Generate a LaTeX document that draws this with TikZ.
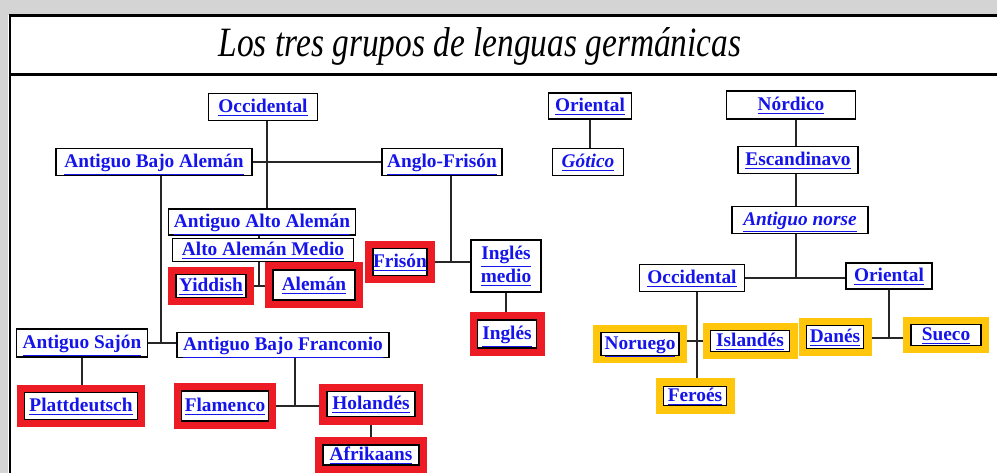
\documentclass[tikz,border=0pt]{standalone}
\usepackage{fontspec}
\setmainfont{Liberation Serif}
\usepackage{xcolor}
\usepackage{tikz}
\definecolor{linkblue}{RGB}{20, 20, 235}
\definecolor{hlred}{RGB}{237, 28, 36}
\definecolor{hlyellow}{RGB}{255, 198, 12}
\definecolor{framegray}{RGB}{212, 212, 212}
\newcommand{\lnk}[1]{\underline{#1}}

\begin{document}
\begin{tikzpicture}[
        x=0.02cm, y=-0.02cm,
        langbase/.style={rectangle, draw=black, line width=0.8pt, fill=white, text=linkblue, inner sep=0pt, align=center, font=\bfseries\fontsize{11}{12}\selectfont},
        lang/.style={langbase, text height=8.5pt, text depth=2.5pt},
        redlang/.style={lang, preaction={draw=hlred, line width=0.32cm}, outer sep=0.16cm},
        yellang/.style={lang, preaction={draw=hlyellow, line width=0.32cm}, outer sep=0.16cm},
        link/.style={line width=0.85pt, draw=black!85}
    ]
        \useasboundingbox (0,0) rectangle (997,473);

        % window frame
        \fill[framegray] (0,0) rectangle (997,15);
        \fill[framegray] (0,0) rectangle (8,473);
        \draw[line width=0.06cm] (10,473) -- (10,16) -- (997,16);
        \draw[line width=0.06cm] (10,75) -- (997,75);
        \node (title) at (480,46) {\scalebox{1}[1.25]{\itshape\fontsize{19}{22}\selectfont Los tres grupos de lenguas germánicas}};

        % occidental
        \node[lang, minimum width=2.18cm, minimum height=0.54cm] (occ) at (263,107) {\lnk{Occidental}};
        \node[lang, minimum width=3.92cm, minimum height=0.54cm] (aba) at (154,162) {\lnk{Antiguo Bajo Alemán}};
        \node[lang, minimum width=2.40cm, minimum height=0.54cm] (af) at (442,162) {\lnk{Anglo-Frisón}};
        \node[lang, minimum width=3.74cm, minimum height=0.52cm] (aaa) at (262,222) {\lnk{Antiguo Alto Alemán}};
        \node[lang, minimum width=3.62cm, minimum height=0.46cm] (aam) at (263,250) {\lnk{Alto Alemán Medio}};
        \node[redlang, minimum width=1.40cm, minimum height=0.46cm] (yid) at (211,286) {\lnk{Yiddish}};
        \node[redlang, minimum width=1.64cm, minimum height=0.60cm] (ale) at (314,285) {\lnk{Alemán}};
        \node[redlang, minimum width=1.06cm, minimum height=0.54cm] (fris) at (400,262) {\lnk{Frisón}};
        \node[langbase, minimum width=1.40cm, minimum height=1.04cm] (im) at (506,266) {\lnk{Inglés}\\\lnk{medio}};
        \node[redlang, minimum width=1.18cm, minimum height=0.56cm] (ing) at (507,334) {\lnk{Inglés}};
        \node[lang, minimum width=2.62cm, minimum height=0.56cm] (asa) at (82,343) {\lnk{Antiguo Sajón}};
        \node[lang, minimum width=4.24cm, minimum height=0.50cm] (abf) at (283,345) {\lnk{Antiguo Bajo Franconio}};
        \node[redlang, minimum width=2.26cm, minimum height=0.54cm] (pla) at (81,406) {\lnk{Plattdeutsch}};
        \node[redlang, minimum width=1.74cm, minimum height=0.60cm] (fla) at (225,406) {\lnk{Flamenco}};
        \node[redlang, minimum width=1.76cm, minimum height=0.50cm] (hol) at (371,404) {\lnk{Holandés}};
        \node[redlang, minimum width=1.92cm, minimum height=0.40cm] (afr) at (371,455) {\lnk{Afrikaans}};

        % oriental
        \node[lang, minimum width=1.66cm, minimum height=0.52cm] (ori) at (590,106) {\lnk{Oriental}};
        \node[lang, minimum width=1.42cm, minimum height=0.54cm, font=\bfseries\itshape\fontsize{11}{12}\selectfont] (got) at (588,162) {\lnk{Gótico}};

        % nordico
        \node[lang, minimum width=2.58cm, minimum height=0.56cm] (nor) at (791,105) {\lnk{Nórdico}};
        \node[lang, minimum width=2.40cm, minimum height=0.54cm] (esc) at (798,160) {\lnk{Escandinavo}};
        \node[lang, minimum width=2.72cm, minimum height=0.54cm, font=\bfseries\itshape\fontsize{11}{12}\selectfont] (an) at (800,220) {\lnk{Antiguo norse}};
        \node[lang, minimum width=2.10cm, minimum height=0.54cm] (occr) at (692,278) {\lnk{Occidental}};
        \node[lang, minimum width=1.72cm, minimum height=0.52cm] (orir) at (889,276) {\lnk{Oriental}};
        \node[yellang, minimum width=1.56cm, minimum height=0.46cm] (norg) at (640,344) {\lnk{Noruego}};
        \node[yellang, minimum width=1.58cm, minimum height=0.42cm] (isl) at (750,341) {\lnk{Islandés}};
        \node[yellang, minimum width=1.26cm, minimum height=0.38cm] (fer) at (695,396) {\lnk{Feroés}};
        \node[yellang, minimum width=1.14cm, minimum height=0.46cm] (dan) at (835,337) {\lnk{Danés}};
        \node[yellang, minimum width=1.40cm, minimum height=0.42cm] (sue) at (946,335) {\lnk{Sueco}};

        % junctions
        \coordinate (oj) at (267,163);
        \coordinate (sj) at (161,343);
        \coordinate (fj) at (451,262);
        \coordinate (yj) at (259,286);
        \coordinate (hj) at (295,406);
        \coordinate (nj) at (796,277);
        \coordinate (wj) at (697,341);
        \coordinate (ej) at (889,338);

        \draw[link] (occ.south -| oj) -- (aaa.north -| oj);
        \draw[link] (aba.east) -- (af.west);
        \draw[link] (aba.south -| sj) -- (sj);
        \draw[link] (asa.east) -- (abf.west |- asa.east);
        \draw[link] (af.south -| fj) -- (fj);
        \draw[link] (fris.east) -- (im.west |- fris.east);
        \draw[link] (im) -- (im |- ing.north);
        \draw[link] (aaa.south -| yj) -- (aam.north -| yj);
        \draw[link] (aam.south -| yj) -- (yj);
        \draw[link] (yid.east) -- (ale.west |- yid.east);
        \draw[link] (asa) -- (asa |- pla.north);
        \draw[link] (abf.south -| hj) -- (hj);
        \draw[link] (fla.east) -- (hol.west |- fla.east);
        \draw[link] (hol) -- (hol |- afr.north);
        \draw[link] (ori) -- (ori |- got.north);
        \draw[link] (nor.south -| nj) -- (esc.north -| nj);
        \draw[link] (esc.south -| nj) -- (an.north -| nj);
        \draw[link] (an.south -| nj) -- (nj);
        \draw[link] (occr.east) -- (orir.west |- occr.east);
        \draw[link] (occr.south -| wj) -- (fer.north -| wj);
        \draw[link] (norg.east |- wj) -- (isl.west |- wj);
        \draw[link] (orir.south -| ej) -- (ej);
        \draw[link] (dan.east |- ej) -- (sue.west |- ej);

    \end{tikzpicture}
\end{document}
